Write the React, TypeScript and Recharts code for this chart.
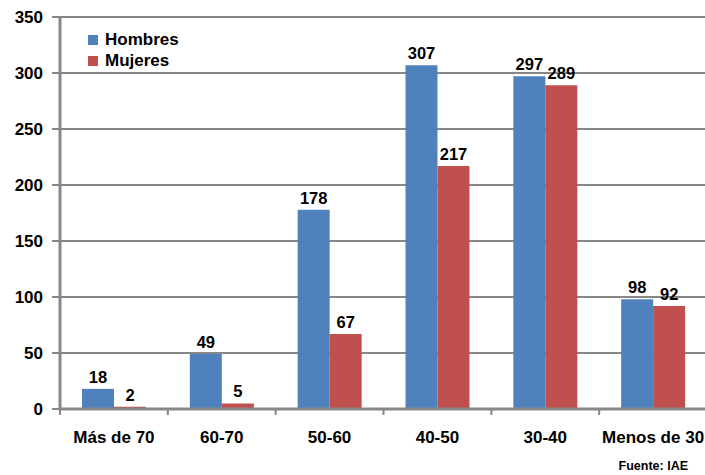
import React from 'react';
import { BarChart, Bar, XAxis, YAxis, CartesianGrid, LabelList } from 'recharts';

const categories = ['Más de 70', '60-70', '50-60', '40-50', '30-40', 'Menos de 30'];
const hombres = [18, 49, 178, 307, 297, 98];
const mujeres = [2, 5, 67, 217, 289, 92];
const yTicks = [0, 50, 100, 150, 200, 250, 300, 350];
const seriesNames = ['Hombres', 'Mujeres'];
const source = 'Fuente: IAE';

const data = categories.map((c, i) => ({ name: c, Hombres: hombres[i], Mujeres: mujeres[i] }));

const FONT = '"Liberation Sans", Arial, sans-serif';
const BLUE = '#4F81BD';
const RED = '#C0504D';
const GRID = '#878787';

const CHART_W = 710;
const LEFT = 60;
const RIGHT_M = 3;
const BAND = (CHART_W - RIGHT_M - LEFT) / categories.length;

const XTick = (props: any) => {
  const { x, y, payload } = props;
  const axisY = y - 22;
  return (
    <g>
      <line x1={x - BAND / 2} y1={axisY} x2={x - BAND / 2} y2={axisY + 6} stroke={GRID} strokeWidth={2} />
      <text x={x} y={y} dy="0.71em" textAnchor="middle" fontFamily={FONT} fontWeight="bold" fontSize={17} fill="#000">
        {payload.value}
      </text>
    </g>
  );
};

const labelStyle = { fontFamily: FONT, fontWeight: 'bold', fontSize: 16.5, fill: '#000' };

export default function App() {
  const colors = [BLUE, RED];
  return (
    <div style={{ position: 'absolute', left: 0, top: 0, width: 705, height: 475, overflow: 'hidden', background: '#fff' }}>
      <BarChart
        width={CHART_W}
        height={475}
        data={data}
        margin={{ top: 17, right: RIGHT_M, left: 0, bottom: 0 }}
        barSize={32}
        barGap={0}
      >
        <CartesianGrid vertical={false} stroke={GRID} strokeWidth={2} />
        <XAxis
          dataKey="name"
          height={66}
          interval={0}
          tickLine={false}
          tickSize={6}
          tickMargin={16}
          axisLine={{ stroke: GRID, strokeWidth: 3 }}
          tick={<XTick />}
        />
        <YAxis
          width={LEFT}
          domain={[0, 350]}
          ticks={yTicks}
          interval={0}
          tickSize={8}
          tickMargin={9}
          axisLine={{ stroke: GRID, strokeWidth: 3 }}
          tickLine={{ stroke: GRID, strokeWidth: 2 }}
          tick={{ fontFamily: FONT, fontWeight: 'bold', fontSize: 17, fill: '#000' }}
        />
        <Bar dataKey="Hombres" fill={BLUE} isAnimationActive={false}>
          <LabelList dataKey="Hombres" position="top" offset={6} style={labelStyle} />
        </Bar>
        <Bar dataKey="Mujeres" fill={RED} isAnimationActive={false}>
          <LabelList dataKey="Mujeres" position="top" offset={6} style={labelStyle} />
        </Bar>
      </BarChart>
      <div
        style={{
          position: 'absolute',
          left: 88,
          top: 29,
          fontFamily: FONT,
          fontWeight: 'bold',
          fontSize: 17,
          color: '#000',
          lineHeight: '21px',
        }}
      >
        {seriesNames.map((n, i) => (
          <div key={n} style={{ display: 'flex', alignItems: 'center' }}>
            <span style={{ display: 'inline-block', width: 10, height: 10, background: colors[i], marginRight: 7 }} />
            <span>{n}</span>
          </div>
        ))}
      </div>
      <div
        style={{
          position: 'absolute',
          right: 17,
          top: 459,
          fontFamily: FONT,
          fontWeight: 'bold',
          fontSize: 12.5,
          color: '#000',
          whiteSpace: 'nowrap',
        }}
      >
        {source}
      </div>
    </div>
  );
}
